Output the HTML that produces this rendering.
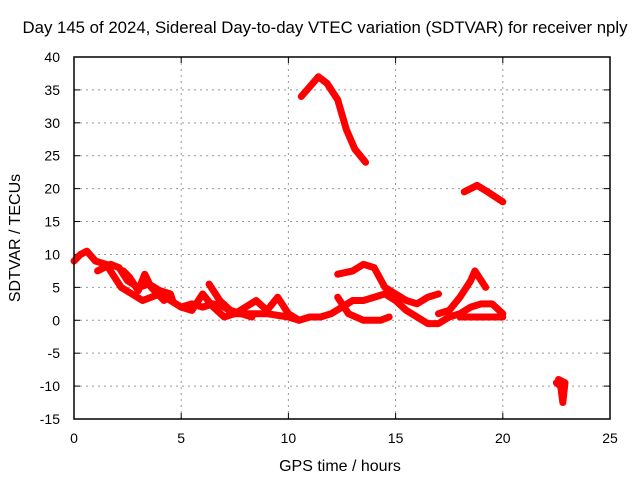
<!DOCTYPE html>
<html><head><meta charset="utf-8"><style>
body{margin:0;background:#fff}
svg text{font-family:"Liberation Sans",sans-serif;font-size:14px;fill:#000}
svg text.big{font-size:16px}
svg text.title{font-size:16.8px}
</style></head><body>
<svg id="c" width="640" height="480">
<text class="title" x="325" y="33" text-anchor="middle">Day 145 of 2024, Sidereal Day-to-day VTEC variation (SDTVAR) for receiver nply</text>
<text class="big" x="340" y="471" text-anchor="middle">GPS time / hours</text>
<text class="big" transform="translate(20,238) rotate(-90)" text-anchor="middle">SDTVAR / TECUs</text>
<g id="grid"></g><g id="ticks"></g><g id="marks"></g>
<rect x="74" y="57" width="536" height="362" fill="none" stroke="#000" stroke-width="1.5"/>
</svg>
<script>
const xTicks=[0,5,10,15,20,25];
const yTicks=[-15,-10,-5,0,5,10,15,20,25,30,35,40];
const track1T=[0,0.3,0.6,1,1.5,1.8,2.2,2.7,3.2,3.6,4,4.5,5,5.5,6,6.5,7,7.5,8,9,10,10.5,11,11.5,12,12.5,13,13.5,14,14.5,15,15.5,16,16.5,17,17.5,18,18.5,19,19.5,20];
const track1V=[9,10,10.5,9,8.5,7,5,4,3,3.5,4,3,2,2.5,2,2.5,2,1,1,1,0.5,0,0.5,0.5,1,2,3,3,3.5,4,3,1.5,0.5,-0.5,-0.5,0.5,1,2,2.5,2.5,1];
const track2T=[1.1,1.7,2.1,2.5,3,3.5,4,4.5,4.6];
const track2V=[7.5,8.5,8,6,5,5.5,4.5,4,3];
const track3T=[2.3,2.6,3,3.3,3.6,4.2];
const track3V=[7.5,6.5,4.5,7,5,3];
const track4T=[5,5.5,6,6.5,7,7.5,8,8.5,9,9.5,10,10.5];
const track4V=[2,1.5,4,2,0.5,1,2,3,1.5,3.5,1,0];
const track5T=[6.3,6.8,7.3,7.8,8.3];
const track5V=[5.5,3,1.5,1,0.5];
const track6T=[12.3,13,13.5,14,14.5,15,15.5,16,16.5,17];
const track6V=[7,7.5,8.5,8,5,4,3,2.5,3.5,4];
const track7T=[12.3,12.8,13.5,14.3,14.7];
const track7V=[3.5,1,0,0,0.5];
const track8T=[17,17.5,18,18.5,18.7,19.2];
const track8V=[1,1.5,3.5,6,7.5,5];
const track9T=[18,19,20];
const track9V=[0.5,0.5,0.5];
const track10T=[10.6,11,11.4,11.8,12.3,12.7,13.1,13.6];
const track10V=[34,35.5,37,36,33.5,29,26,24];
const track11T=[18.2,18.8,19.3,20];
const track11V=[19.5,20.5,19.5,18];
const track12T=[22.5,22.7,22.8,22.9,22.6];
const track12V=[-9.5,-10,-12.5,-9.5,-9];
const tracksT=[track1T,track2T,track3T,track4T,track5T,track6T,track7T,track8T,track9T,track10T,track11T,track12T];
const tracksV=[track1V,track2V,track3V,track4V,track5V,track6V,track7V,track8V,track9V,track10V,track11V,track12V];
const X=t=>74+t*536/25, Y=v=>57+(40-v)*362/55;
const NS='http://www.w3.org/2000/svg';
const g=document.getElementById('grid'),tk=document.getElementById('ticks'),m=document.getElementById('marks');
function el(tag,a,p){const e=document.createElementNS(NS,tag);for(const k in a)e.setAttribute(k,a[k]);p.appendChild(e);return e;}
xTicks.forEach(t=>{const x=X(t);
 if(t>0&&t<25){const l=el('line',{x1:x,x2:x,y1:57,y2:419,stroke:'#999','stroke-dasharray':'2,4'},g);
 
 }
 const tx=el('text',{x:x,y:443,'text-anchor':'middle'},tk);tx.textContent=t;
 
 
 el('line',{x1:x,x2:x,y1:419,y2:413,stroke:'#000'},tk);el('line',{x1:x,x2:x,y1:57,y2:63,stroke:'#000'},tk);});
yTicks.forEach(v=>{const y=Y(v);
 if(v>-15&&v<40){const l=el('line',{x1:74,x2:610,y1:y,y2:y,stroke:'#999','stroke-dasharray':'2,4'},g);
 
 }
 const tx=el('text',{x:60,y:y+5,'text-anchor':'end'},tk);tx.textContent=v;
 
 
 el('line',{x1:74,x2:80,y1:y,y2:y,stroke:'#000'},tk);el('line',{x1:610,x2:604,y1:y,y2:y,stroke:'#000'},tk);});
tracksT.forEach((T,i)=>{const V=tracksV[i];
 const p=el('polyline',{points:T.map((t,j)=>X(t)+','+Y(V[j])).join(' '),fill:'none',stroke:'#f00','stroke-width':7,'stroke-linejoin':'round','stroke-linecap':'round'},m);
 
 });
</script>
</body></html>
